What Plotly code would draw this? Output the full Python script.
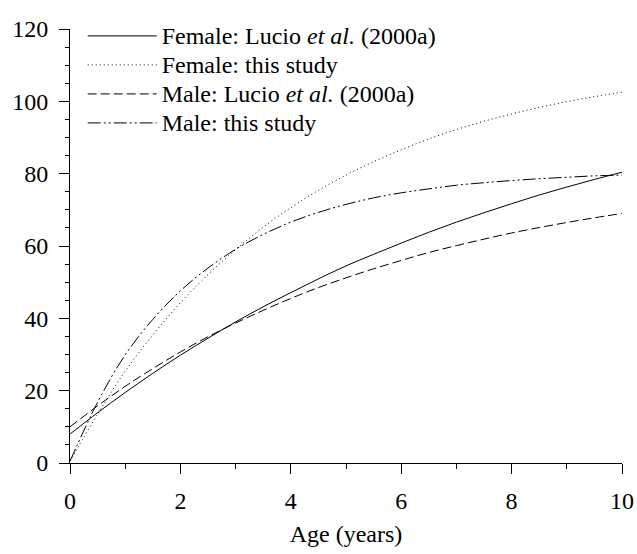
import plotly.graph_objects as go

# Age (years)
age = [0, 0.5, 1, 1.5, 2, 2.5, 3, 3.5, 4, 4.5, 5, 5.5, 6, 6.5, 7, 7.5, 8, 8.5, 9, 9.5, 10]

# Length estimates
female_lucio = [8.0, 13.9, 19.5, 24.8, 29.8, 34.5, 39.0, 43.2, 47.1, 50.9, 54.5,
                57.7, 60.8, 63.8, 66.6, 69.2, 71.7, 74.1, 76.3, 78.4, 80.4]
female_study = [0.5, 13.5, 25.4, 35.4, 44.3, 52.1, 59.0, 65.2, 70.6, 75.4, 79.6,
                83.3, 86.6, 89.6, 92.2, 94.5, 96.5, 98.3, 99.9, 101.3, 102.5]
male_lucio = [10.0, 15.8, 21.2, 26.1, 30.7, 34.9, 38.7, 42.2, 45.5, 48.5, 51.2,
              53.7, 56.0, 58.2, 60.1, 61.9, 63.6, 65.1, 66.5, 67.8, 69.0]
male_study = [0.5, 16.8, 29.9, 39.7, 47.6, 53.9, 59.1, 63.2, 66.6, 69.3, 71.5,
              73.3, 74.7, 75.8, 76.8, 77.5, 78.1, 78.6, 79.0, 79.4, 79.6]

series = [
    ("Female: Lucio <i>et al.</i> (2000a)", female_lucio, "solid"),
    ("Female: this study", female_study, "1px,3px"),
    ("Male: Lucio <i>et al.</i> (2000a)", male_lucio, "9px,4px"),
    ("Male: this study", male_study, "13px,3px,2px,3px,2px,3px"),
]

SERIF = "Liberation Serif"

fig = go.Figure()
for name, vals, dash in series:
    fig.add_trace(
        go.Scatter(
            x=age,
            y=vals,
            # bigger text than the legend font keeps the rows tight
            name='<span style="font-size:24px">' + name + "</span>",
            mode="lines",
            line=dict(color="black", width=1, dash=dash, shape="spline"),
        )
    )

axis_common = dict(
    showline=True,
    linecolor="black",
    linewidth=1,
    showgrid=False,
    zeroline=False,
    automargin=False,
    ticks="outside",
    ticklen=10,
    tickwidth=1,
    tickcolor="black",
    ticklabeloverflow="allow",
    tickfont=dict(family=SERIF, size=24, color="black"),
)

fig.update_xaxes(
    range=[0, 10],
    dtick=2,
    minor=dict(dtick=1, ticks="outside", ticklen=5, tickcolor="black"),
    ticklabelstandoff=6,
    title=dict(text="Age (years)", font=dict(family=SERIF, size=24, color="black"), standoff=12),
    **axis_common,
)
fig.update_yaxes(
    range=[0, 120],
    dtick=20,
    minor=dict(dtick=5, ticks="outside", ticklen=4, tickcolor="black"),
    ticklabelstandoff=6,
    **axis_common,
)

fig.update_layout(
    width=637,
    height=554,
    margin=dict(l=70, r=15, t=29, b=91),
    plot_bgcolor="white",
    paper_bgcolor="white",
    font=dict(family=SERIF, color="black"),
    legend=dict(
        x=0.023,
        y=1.029,
        xanchor="left",
        yanchor="top",
        font=dict(family=SERIF, size=20),
        itemwidth=69,
        bgcolor="rgba(0,0,0,0)",
    ),
)

# drop the default page margin so the figure fills the window
fig.write_html(
    "out.html",
    config={"displayModeBar": False},
    post_script="document.body.style.margin = '0';",
)
